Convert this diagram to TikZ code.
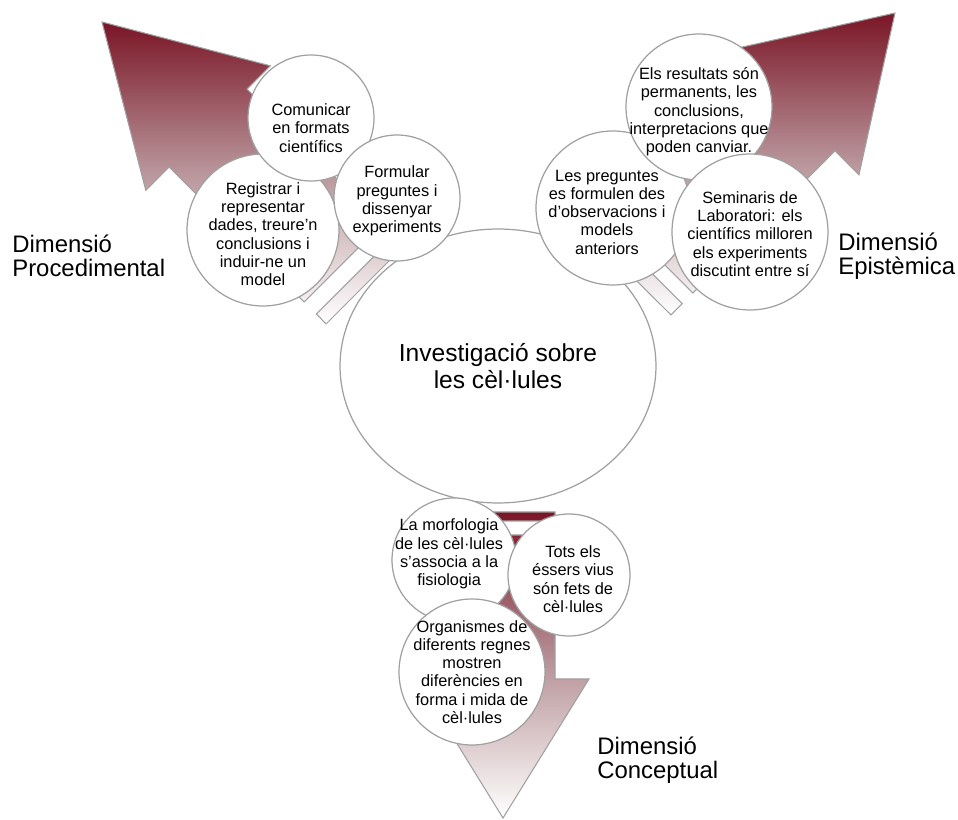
\documentclass[tikz,border=0pt]{standalone}
\usepackage{fontspec}
\setmainfont{Liberation Sans}
\usetikzlibrary{shapes.geometric}
\definecolor{tipred}{RGB}{122,21,38}
\definecolor{midred}{RGB}{185,150,155}
\definecolor{rimgray}{RGB}{160,160,160}

\begin{document}
\begin{tikzpicture}[x=0.02cm,y=-0.02cm,
  bigarrow/.style={draw=rimgray,line width=0.6pt,top color=tipred,bottom color=white,middle color=midred},
  bubble/.style={circle,draw=rimgray,line width=0.7pt,fill=white,inner sep=0pt},
  bubtext/.style={align=center,inner sep=0pt,font=\fontsize{9.3}{10.4}\selectfont},
  dimlabel/.style={align=left,anchor=north west,inner sep=0pt,font=\fontsize{13.6}{13.4}\selectfont}
]
\useasboundingbox (0,0) rectangle (958,820);

\path[bigarrow] (102,22) -- (145.8,190.3) -- (169.2,167) -- (304.2,302) -- (382,224.2) -- (247,89.2) -- (270.3,65.8) -- cycle
  (316.3,314) -- (326.1,323.9) -- (403.9,246.1) -- (394,236.3) -- cycle;
\path[bigarrow] (895,13) -- (858.9,174.9) -- (834.9,150.9) -- (692.8,293) -- (615,215.2) -- (757.1,73.1) -- (733.1,49.1) -- cycle
  (682.2,303.6) -- (670.9,314.9) -- (593.1,237.2) -- (604.4,225.8) -- cycle;
\path[bigarrow] (503,818) -- (417,679) -- (451,679) -- (451,535) -- (555,535) -- (555,679) -- (589,679) -- cycle
  (451,512) rectangle (555,521);

\node[ellipse,draw=rimgray,line width=0.7pt,fill=white,inner sep=0pt,minimum width=6.32cm,minimum height=5.48cm,
  align=center,font=\fontsize{14}{15.1}\selectfont] (core) at (498,366) {Investigació sobre\\les cèl·lules};

\node[bubble,minimum size=3.04cm,label={[bubtext,yshift=-2.3pt]center:{Registrar i\\representar\\dades, treure’n\\conclusions i\\induir-ne un\\model}}] (registrar) at (263,230) {};
\node[bubble,minimum size=2.52cm,label={[bubtext,yshift=-5.7pt]center:{Comunicar\\en formats\\científics}}] (comunicar) at (311,118) {};
\node[bubble,minimum size=2.52cm,label={[bubtext,yshift=-1.7pt]center:{Formular\\preguntes i\\dissenyar\\experiments}}] (formular) at (397,198) {};

\node[bubble,minimum size=3.08cm,label={[bubtext,xshift=-3.4pt,yshift=-2.3pt]center:{Les preguntes\\es formulen des\\d’observacions i\\models\\anteriors}}] (preguntes) at (613,208) {};
\node[bubble,minimum size=2.92cm,label={[bubtext,yshift=-2.8pt]center:{Els resultats són\\permanents, les\\conclusions,\\interpretacions que\\poden canviar.}}] (resultats) at (699,107) {};
\node[bubble,minimum size=3.12cm,label={[bubtext,yshift=-1.1pt]center:{Seminaris de\\Laboratori: els\\científics milloren\\els experiments\\discutint entre sí}}] (seminaris) at (750,232) {};

\node[bubble,minimum size=2.48cm,label={[bubtext,xshift=-2.8pt,yshift=3.4pt]center:{La morfologia\\de les cèl·lules\\s’associa a la\\fisiologia}}] (morfologia) at (454,560) {};
\node[bubble,minimum size=2.92cm,label={[bubtext]center:{Organismes de\\diferents regnes\\mostren\\diferències en\\forma i mida de\\cèl·lules}}] (organismes) at (472,672) {};
\node[bubble,minimum size=2.44cm,label={[bubtext,xshift=2.3pt,yshift=-2.3pt]center:{Tots els\\éssers vius\\són fets de\\cèl·lules}}] (tots) at (569,575) {};

\node[dimlabel] (procedimental) at (12,235) {Dimensió\\Procedimental};
\node[dimlabel] (epistemica) at (838,233) {Dimensió\\Epistèmica};
\node[dimlabel] (conceptual) at (597,737) {Dimensió\\Conceptual};
\end{tikzpicture}
\end{document}
